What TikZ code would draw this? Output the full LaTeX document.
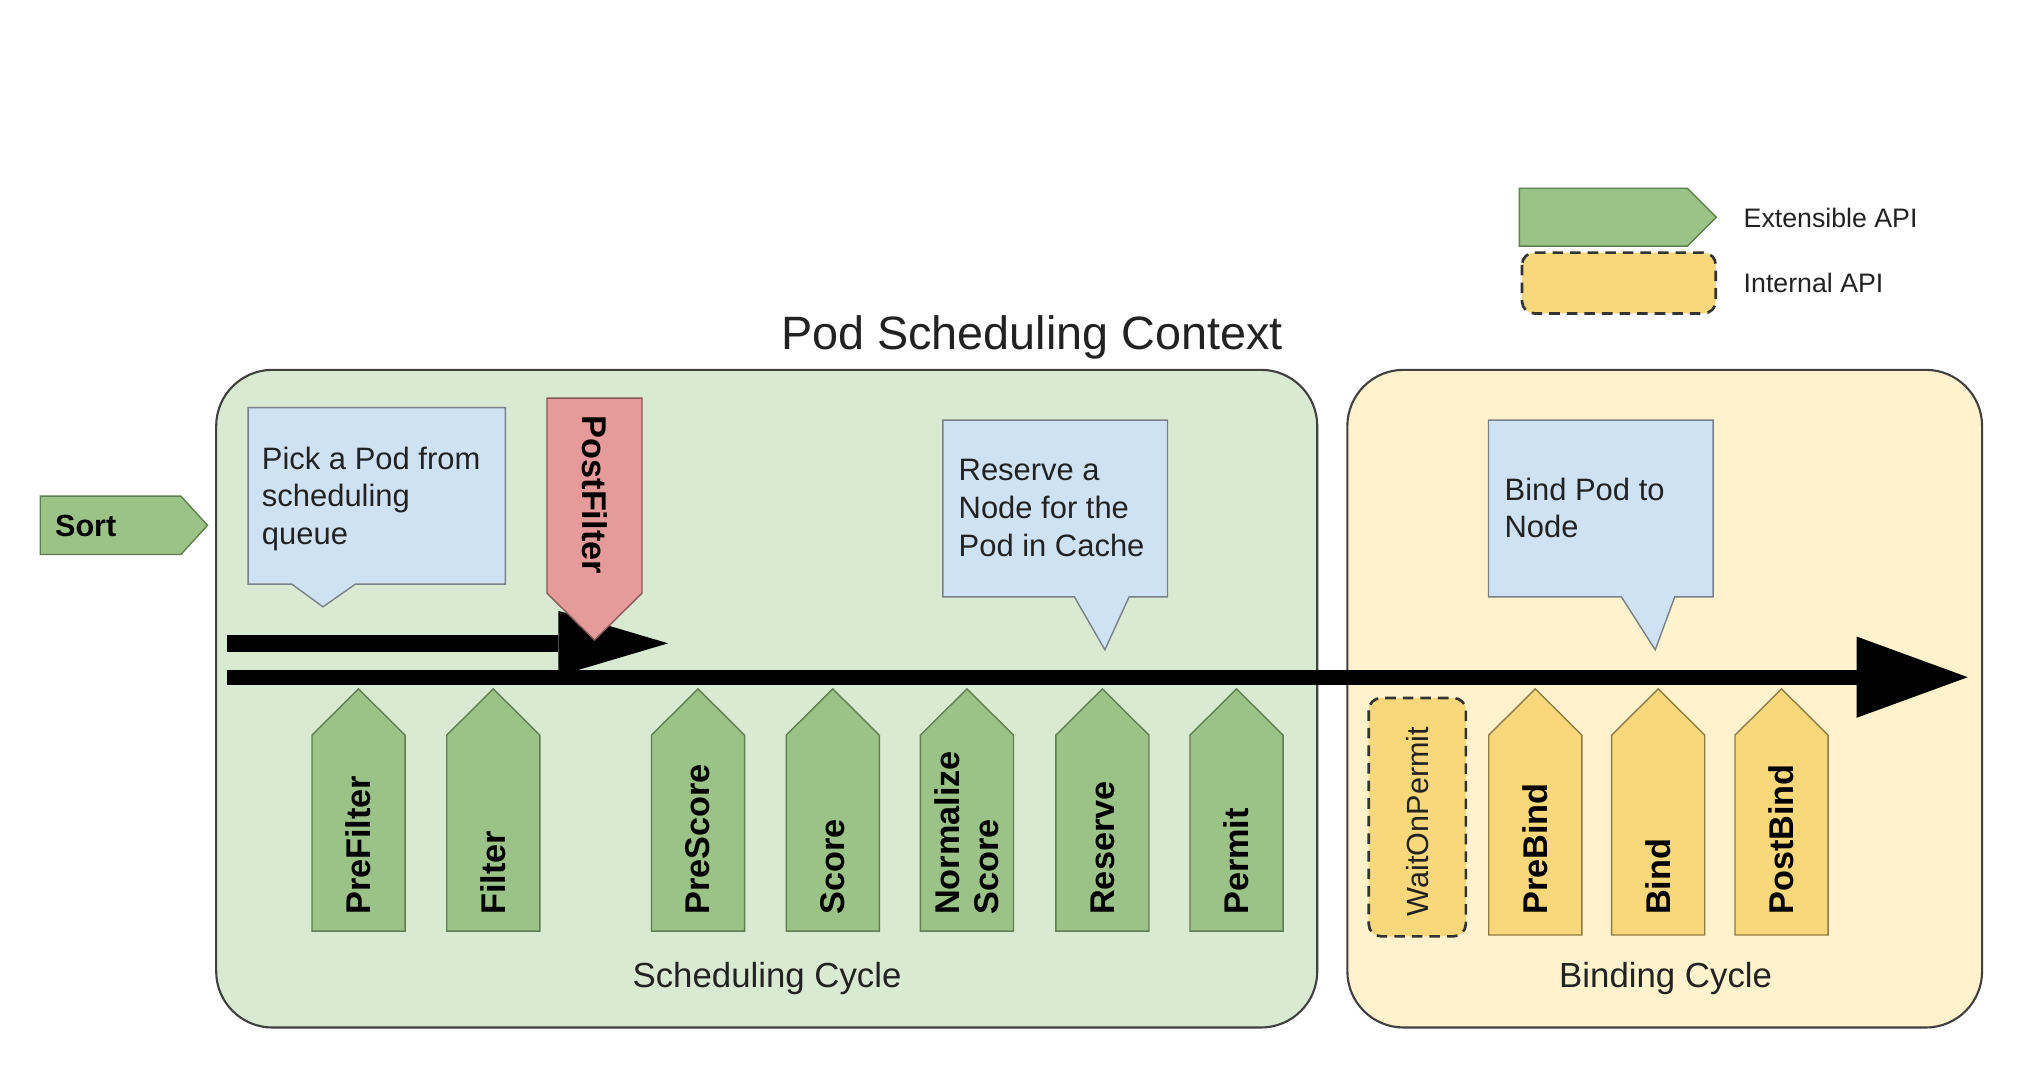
\documentclass[tikz,border=0pt]{standalone}
\usepackage{fontspec}
\setmainfont{Liberation Sans}
\usetikzlibrary{arrows.meta}
\definecolor{boxgreen}{HTML}{D9EAD3}
\definecolor{boxyellow}{HTML}{FFF2CC}
\definecolor{apigreen}{HTML}{9CC387}
\definecolor{apigreenline}{HTML}{5F7F50}
\definecolor{apiyellow}{HTML}{F9D77B}
\definecolor{apiyellowline}{HTML}{8F7B45}
\definecolor{noteblue}{HTML}{CFE2F3}
\definecolor{noteline}{HTML}{7A8088}
\definecolor{postred}{HTML}{E69B9B}
\definecolor{postredline}{HTML}{8A5858}
\definecolor{textdark}{HTML}{222222}
\tikzset{
  cyclebox/.style={draw=black!75, line width=0.6pt, rounded corners=16pt},
  extapi/.style={fill=apigreen, draw=apigreenline, line width=0.4pt},
  intapi/.style={fill=apiyellow, draw=apiyellowline, line width=0.4pt},
  postf/.style={fill=postred, draw=postredline, line width=0.4pt},
  note/.style={fill=noteblue, draw=noteline, line width=0.4pt},
  dashbox/.style={fill=apiyellow, draw=black!80, line width=0.75pt, dash pattern=on 3pt off 2pt, rounded corners=3.5pt},
  lbl/.style={font=\fontsize{9.75}{11}\selectfont\bfseries, inner sep=0pt, align=left, text=black},
  notetext/.style={font=\fontsize{8.8}{10.7}\selectfont, inner sep=0pt, align=left, text=textdark},
  cycletext/.style={font=\fontsize{9.9}{12}\selectfont, inner sep=0pt, text=textdark},
  legtext/.style={font=\fontsize{7.6}{9}\selectfont, inner sep=0pt, anchor=west, text=textdark},
}
\newcommand{\apiUp}[5]{%
  \draw[#1] ({#2-35.75},#3) -- ({#2-35.75},564.5) -- (#2,529) -- ({#2+35.75},564.5) -- ({#2+35.75},#3) -- cycle;
  \node[lbl, rotate=90, anchor=west] (#4) at (#2,703) {#5};
}
\begin{document}
\begin{tikzpicture}[x=0.013023cm, y=-0.013023cm]
\useasboundingbox (0,0) rectangle (1568,822);
\fill[white] (0,0) rectangle (1568,822);

% title
\node[font=\fontsize{13.3}{16}\selectfont, anchor=base, inner sep=0pt, text=textdark] (title) at (792.5,268) {Pod Scheduling Context};

% legend
\draw[extapi] (1166.7,144.6) -- (1295.7,144.6) -- (1318,166.8) -- (1295.7,189) -- (1166.7,189) -- cycle;
\node[legtext] (legext) at (1338.4,167.5) {Extensible API};
\draw[dashbox] (1168.7,194) rectangle (1317.5,240.7);
\node[legtext] (legint) at (1338.4,217.6) {Internal API};

% cycle boxes
\draw[cyclebox, fill=boxgreen] (166,284) rectangle (1011.5,789);
\draw[cyclebox, fill=boxyellow] (1034.6,284) rectangle (1522,789);
\node[cycletext] (schedcycle) at (589,751) {Scheduling Cycle};
\node[cycletext] (bindcycle) at (1279,751) {Binding Cycle};

% Sort
\draw[extapi] (30.9,381) -- (138.9,381) -- (159.4,403.4) -- (138.9,425.8) -- (30.9,425.8) -- cycle;
\node[font=\fontsize{8.7}{10}\selectfont\bfseries, inner sep=0pt, anchor=west] (sort) at (41.8,404) {Sort};

% callouts
\draw[note] (190.5,313) -- (388,313) -- (388,448.5) -- (273,448.5) -- (248,466) -- (224,448.5) -- (190.5,448.5) -- cycle;
\node[notetext, anchor=west] (pick) at (200.6,383) {Pick a Pod from\\scheduling\\queue};
\draw[note] (724,322.6) -- (896.5,322.6) -- (896.5,458.3) -- (867,458.3) -- (848.4,499) -- (825,458.3) -- (724,458.3) -- cycle;
\node[notetext, anchor=west] (reservenote) at (735.6,390) {Reserve a\\Node for the\\Pod in Cache};
\draw[note] (1143,322.6) -- (1315.4,322.6) -- (1315.4,458.3) -- (1286,458.3) -- (1271,499) -- (1245,458.3) -- (1143,458.3) -- cycle;
\node[notetext, anchor=west] (bindnote) at (1154.8,390) {Bind Pod to\\Node};

% flow arrows
\coordinate (upS) at (174,494);
\coordinate (upE) at (513,494);
\coordinate (loS) at (174,520);
\coordinate (loE) at (1511,520);
\draw[line width=4.8pt, -{Triangle[length=31.2pt,width=18.5pt,line width=0pt]}] (upS) -- (upE);
\draw[line width=4.25pt, -{Triangle[length=31.6pt,width=23.1pt,line width=0pt]}] (loS) -- (loE);

% extension points (scheduling cycle)
\apiUp{extapi}{275.3}{715}{prefilter}{PreFilter}
\apiUp{extapi}{378.8}{715}{filter}{Filter}
\apiUp{extapi}{536}{715}{prescore}{PreScore}
\apiUp{extapi}{639.5}{715}{score}{Score}
\apiUp{extapi}{742.5}{715}{normalize}{Normalize\\Score}
\apiUp{extapi}{846.5}{715}{reserve}{Reserve}
\apiUp{extapi}{949.5}{715}{permit}{Permit}

% binding cycle
\draw[dashbox] (1051,536) rectangle (1125.6,719);
\node[font=\fontsize{8.7}{10}\selectfont, inner sep=0pt, rotate=90, anchor=west, text=textdark] (waitonpermit) at (1088.3,704) {WaitOnPermit};
\apiUp{intapi}{1178.9}{718}{prebind}{PreBind}
\apiUp{intapi}{1273.3}{718}{bind}{Bind}
\apiUp{intapi}{1368}{718}{postbind}{PostBind}

% PostFilter
\draw[postf] (420,305.7) -- (493,305.7) -- (493,455.5) -- (456.5,491.5) -- (420,455.5) -- cycle;
\node[lbl, rotate=-90, anchor=west] (postfilter) at (456.5,318.7) {PostFilter};
\end{tikzpicture}
\end{document}
